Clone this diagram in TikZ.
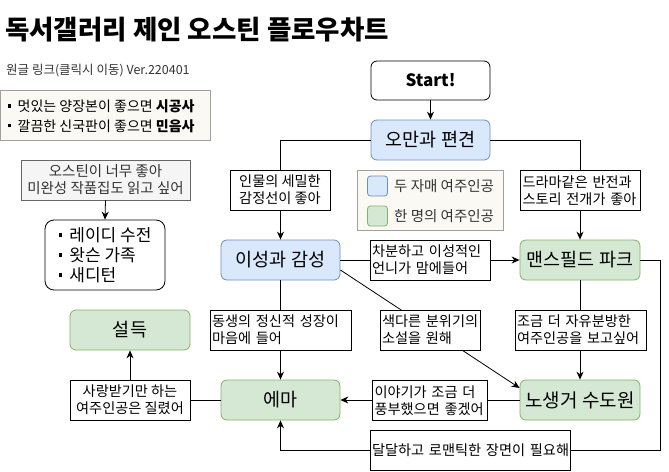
\documentclass[tikz,border=0pt]{standalone}
\usepackage{fontspec}
\setmainfont{Noto Sans CJK KR}
\usetikzlibrary{arrows.meta,calc}
\definecolor{bfill}{HTML}{DAE8FC}
\definecolor{bdraw}{HTML}{6C8EBF}
\definecolor{gfill}{HTML}{D5E8D4}
\definecolor{gdraw}{HTML}{82B366}
\definecolor{offwhite}{HTML}{FAF9F4}
\definecolor{legdraw}{HTML}{A0A0A0}
\definecolor{grayfill}{HTML}{F5F5F5}
\definecolor{graydraw}{HTML}{666666}
\definecolor{graytext}{HTML}{333333}
\newcommand{\sqbul}{\raisebox{0.28em}{\rule{3.2pt}{3.2pt}}\hspace{0.45em}}
\tikzset{
  book/.style={rounded corners=6pt, draw, line width=0.8pt, minimum width=119pt, minimum height=40pt, inner sep=0pt, font=\fontsize{18.5}{21}\selectfont},
  bluebook/.style={book, fill=bfill, draw=bdraw},
  greenbook/.style={book, fill=gfill, draw=gdraw},
  lbl/.style={draw, fill=white, line width=0.8pt, minimum height=40pt, inner sep=2pt, font=\fontsize{14.2}{17}\selectfont},
  lblc/.style={lbl, align=center, minimum width=#1},
  lbll/.style={lbl, align=left, text width=#1},
  conn/.style={line width=0.8pt, -{Stealth[length=8pt,width=7pt]}},
}
\begin{document}
\begin{tikzpicture}[x=1pt,y=-1pt]
\useasboundingbox (0,0) rectangle (669,471);

% title and header
\node[anchor=west, inner sep=0pt, font=\fontsize{26.5}{30}\selectfont\bfseries] (title) at (5,30) {독서갤러리 제인 오스틴 플로우차트};
\node[anchor=west, inner sep=0pt, font=\fontsize{12.5}{15}\selectfont, text=graytext] (sub) at (6,71) {원글 링크(클릭시 이동) Ver.220401};
\node[draw=legdraw, fill=offwhite, line width=0.8pt, minimum width=210pt, minimum height=50pt, inner sep=0pt] (pub) at (105,115) {};
\node[anchor=west, inner sep=0pt, align=left, font=\fontsize{14}{19.5}\selectfont] (pubtext) at (8,116) {\sqbul 멋있는 양장본이 좋으면 \textbf{시공사}\\\sqbul 깔끔한 신국판이 좋으면 \textbf{민음사}};

% main nodes
\node[book, fill=white, font=\fontsize{17}{20}\selectfont\bfseries, minimum height=39pt] (start) at (430.5,80.5) {Start!};
\node[bluebook] (pp) at (430.5,140) {오만과 편견};
\node[bluebook] (ss) at (280.5,260) {이성과 감성};
\node[greenbook, minimum width=120pt] (mp) at (580,260) {맨스필드 파크};
\node[greenbook, minimum width=120pt, font=\fontsize{19}{22}\selectfont] (na) at (580,400) {노생거 수도원};
\node[greenbook] (em) at (280.5,400) {에마};
\node[greenbook, minimum width=120pt] (pe) at (130,330) {설득};

\node[draw=graydraw, fill=grayfill, text=graytext, line width=0.8pt, minimum width=169pt, minimum height=40pt, inner sep=0pt, align=center, font=\fontsize{14.5}{17}\selectfont] (want) at (105.5,180) {오스틴이 너무 좋아\\미완성 작품집도 읽고 싶어};
\node[draw, fill=white, rounded corners=9pt, line width=0.8pt, minimum width=120pt, minimum height=70pt, inner sep=0pt, align=left, font=\fontsize{17}{20}\selectfont] (unfin) at (105,255) {\sqbul 레이디 수전\\\sqbul 왓슨 가족\\\sqbul 새디턴};

% legend
\node[draw=legdraw, fill=offwhite, line width=0.8pt, minimum width=146pt, minimum height=60pt, inner sep=0pt] (legend) at (430,200) {};
\node[draw=bdraw, fill=bfill, rounded corners=3pt, line width=0.8pt, minimum width=20pt, minimum height=20pt, inner sep=0pt] (sw1) at (377.5,186) {};
\node[draw=gdraw, fill=gfill, rounded corners=3pt, line width=0.8pt, minimum width=20pt, minimum height=20pt, inner sep=0pt] (sw2) at (377.5,216) {};
\node[anchor=west, inner sep=0pt, text=graytext, font=\fontsize{14.5}{17}\selectfont] (lt1) at (394,186) {두 자매 여주인공};
\node[anchor=west, inner sep=0pt, text=graytext, font=\fontsize{14.5}{17}\selectfont] (lt2) at (394,216) {한 명의 여주인공};

% connectors
\draw[conn] (start.south) -- (pp.north);
\draw[conn] (pp.west) -| (ss.north);
\draw[conn] (pp.east) -| (mp.north);
\draw[conn] (ss.east) -- (mp.west);
\draw[conn] (ss.south) -- (em.north);
\draw[conn] ([yshift=-10pt]ss.east) -- ([yshift=12pt]na.west);
\draw[conn] (mp.south) -- (na.north);
\draw[conn] (na.west) -- (em.east);
\coordinate (loop) at (660,450);
\draw[conn] (mp.east) -| (loop) -| (em.south);
\draw[conn] (em.west) -| (pe.south);
\draw[conn] (want.south) -- (unfin.north);

% labels
\node[lblc=100pt] (l1) at (280,190) {인물의~세밀한\\감정선이~좋아};
\node[lbll=116pt] (l2) at (580.5,190.5) {드라마같은~반전과\\스토리~전개가~좋아};
\node[lbll=116pt] (l3) at (430,260) {차분하고~이성적인\\언니가~맘에들어};
\node[lbll=137pt] (l4) at (280.5,330) {동생의~정신적~성장이\\마음에~들어};
\node[lbll=96pt] (l5) at (430,330) {색다른~분위기의\\소설을~원해};
\node[lbll=127pt] (l6) at (580.5,330) {조금~더~자유분방한\\여주인공을~보고싶어};
\node[lbll=111pt] (l7) at (430,400.5) {이야기가~조금~더\\풍부했으면~좋겠어};
\node[lbll=196pt] (l8) at (470,450) {달달하고~로맨틱한~장면이~필요해};
\node[lblc=120pt] (l9) at (130,400) {사랑받기만~하는\\여주인공은~질렸어};
\end{tikzpicture}
\end{document}
